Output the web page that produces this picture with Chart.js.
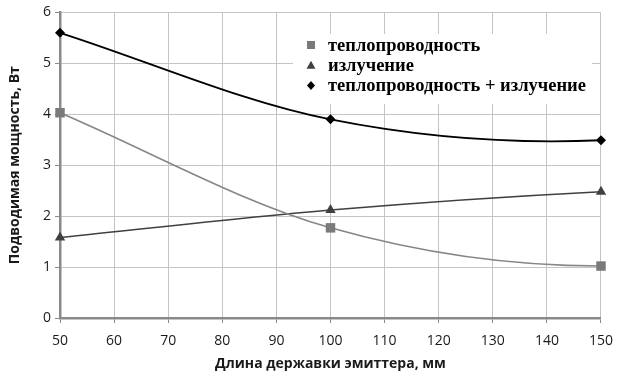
<!DOCTYPE html>
<html>
<head>
<meta charset="utf-8">
<script src="https://cdn.jsdelivr.net/npm/chart.js@4.4.1/dist/chart.umd.min.js"></script>
<style>
  html, body { margin: 0; padding: 0; background: #fff; }
  #wrap { width: 623px; height: 377px; }
</style>
</head>
<body>
<div id="wrap"><canvas id="c" width="623" height="377"></canvas></div>
<script>
// Holder length, mm
const lengths = [50, 100, 150];
// Supplied power, W
const conduction = [4.03, 1.77, 1.02];
const radiation = [1.58, 2.12, 2.48];
const total = [5.60, 3.90, 3.49];

const seriesNames = ['теплопроводность', 'излучение', 'теплопроводность + излучение'];
const xTitle = 'Длина державки эмиттера, мм';
const yTitle = 'Подводимая мощность, Вт';

const toPoints = (ys) => lengths.map((x, i) => ({ x: x, y: ys[i] }));

// Smoothed line: Catmull-Rom handles at inner points; the first handle lies
// on the chord, the last one follows a parabolic end condition.
const smoothLines = {
  id: 'smoothLines',
  beforeDatasetDraw(chart, args) {
    const meta = args.meta;
    const pts = meta.data;
    const n = pts.length;
    if (n < 3) return;
    const k = 1 / 6;
    for (let i = 1; i < n - 1; i++) {
      const a = pts[i - 1], p = pts[i], b = pts[i + 1];
      p.cp1x = p.x - k * (b.x - a.x);
      p.cp1y = p.y - k * (b.y - a.y);
      p.cp2x = p.x + k * (b.x - a.x);
      p.cp2y = p.y + k * (b.y - a.y);
    }
    const f = pts[0], f1 = pts[1];
    f.cp1x = f.x; f.cp1y = f.y;
    f.cp2x = f.x + (f1.x - f.x) / 3;
    f.cp2y = f.y + (f1.y - f.y) / 3;
    const l = pts[n - 1], l1 = pts[n - 2];
    l.cp1x = l1.cp2x + (l.x - l1.x) / 3;
    l.cp1y = l1.cp2y + (l.y - l1.y) / 3;
    l.cp2x = l.x; l.cp2y = l.y;
    meta.dataset._pointsUpdated = true;
  }
};

// Legend drawn inside the plot area on a white box
const innerLegend = {
  id: 'innerLegend',
  afterDatasetsDraw(chart) {
    const ctx = chart.ctx;
    const left = 293, top = 34, w = 299, h = 70;
    ctx.save();
    ctx.fillStyle = '#ffffff';
    ctx.fillRect(left, top, w, h);
    ctx.font = 'bold 18.5px "Liberation Serif", "Times New Roman", serif';
    ctx.textBaseline = 'middle';
    ctx.textAlign = 'left';
    chart.data.datasets.forEach((ds, i) => {
      const cy = top + 11 + i * 20.3;
      const cx = left + 18;
      ctx.fillStyle = ds.pointBackgroundColor;
      ctx.beginPath();
      if (ds.pointStyle === 'rect') {
        ctx.rect(cx - 4, cy - 4, 8, 8);
      } else if (ds.pointStyle === 'triangle') {
        ctx.moveTo(cx, cy - 4.5);
        ctx.lineTo(cx + 4.5, cy + 3.5);
        ctx.lineTo(cx - 4.5, cy + 3.5);
        ctx.closePath();
      } else {
        ctx.moveTo(cx, cy - 4.5);
        ctx.lineTo(cx + 4, cy);
        ctx.lineTo(cx, cy + 4.5);
        ctx.lineTo(cx - 4, cy);
        ctx.closePath();
      }
      ctx.fill();
      ctx.fillStyle = '#000';
      ctx.fillText(ds.label, left + 35, cy + 1);
    });
    ctx.restore();
  }
};

const tickFont = { family: '"Open Sans", "Liberation Sans", sans-serif', size: 14 };
const titleFont = { family: '"Open Sans", "Liberation Sans", sans-serif', size: 14, weight: 'bold' };

new Chart(document.getElementById('c'), {
  type: 'line',
  data: {
    datasets: [
      {
        label: seriesNames[0],
        data: toPoints(conduction),
        borderColor: '#868686',
        borderWidth: 1.6,
        pointStyle: 'rect',
        pointRadius: 6.7,
        pointBackgroundColor: '#7a7a7a',
        pointBorderColor: '#7a7a7a',
        pointBorderWidth: 0,
        tension: 0.4,
        clip: false
      },
      {
        label: seriesNames[1],
        data: toPoints(radiation),
        borderColor: '#404040',
        borderWidth: 1.6,
        pointStyle: 'triangle',
        pointRadius: 6,
        pointBackgroundColor: '#404040',
        pointBorderColor: '#404040',
        pointBorderWidth: 0,
        tension: 0.4,
        clip: false
      },
      {
        label: seriesNames[2],
        data: toPoints(total),
        borderColor: '#000000',
        borderWidth: 1.8,
        pointStyle: 'rectRot',
        pointRadius: 5,
        pointBackgroundColor: '#000000',
        pointBorderColor: '#000000',
        pointBorderWidth: 0,
        tension: 0.4,
        clip: false
      }
    ]
  },
  options: {
    responsive: false,
    animation: false,
    layout: { padding: { top: 12, right: 20, left: 0, bottom: 0 } },
    plugins: {
      legend: { display: false },
      tooltip: { enabled: false }
    },
    scales: {
      x: {
        type: 'linear',
        min: 50,
        max: 150,
        afterFit(scale) { scale.height = 59; },
        ticks: { stepSize: 10, color: '#1a1a1a', font: tickFont, padding: 10, maxRotation: 0 },
        grid: { color: '#c4c4c4', lineWidth: 1, tickLength: 5, tickColor: '#8a8a8a', drawTicks: true },
        border: { color: '#8a8a8a', width: 2.5 },
        title: { display: true, text: xTitle, color: '#1a1a1a', font: titleFont, padding: { top: 0, bottom: 5 } }
      },
      y: {
        min: 0,
        max: 6,
        afterFit(scale) { scale.width = 60; },
        ticks: { stepSize: 1, color: '#1a1a1a', font: tickFont, padding: 4 },
        grid: { color: '#c4c4c4', lineWidth: 1, tickLength: 5, tickColor: '#8a8a8a', drawTicks: true },
        border: { color: '#8a8a8a', width: 2.5 },
        title: { display: true, text: yTitle, color: '#1a1a1a', font: titleFont, padding: { top: 7, bottom: 0 } }
      }
    }
  },
  plugins: [smoothLines, innerLegend]
});
</script>
</body>
</html>
